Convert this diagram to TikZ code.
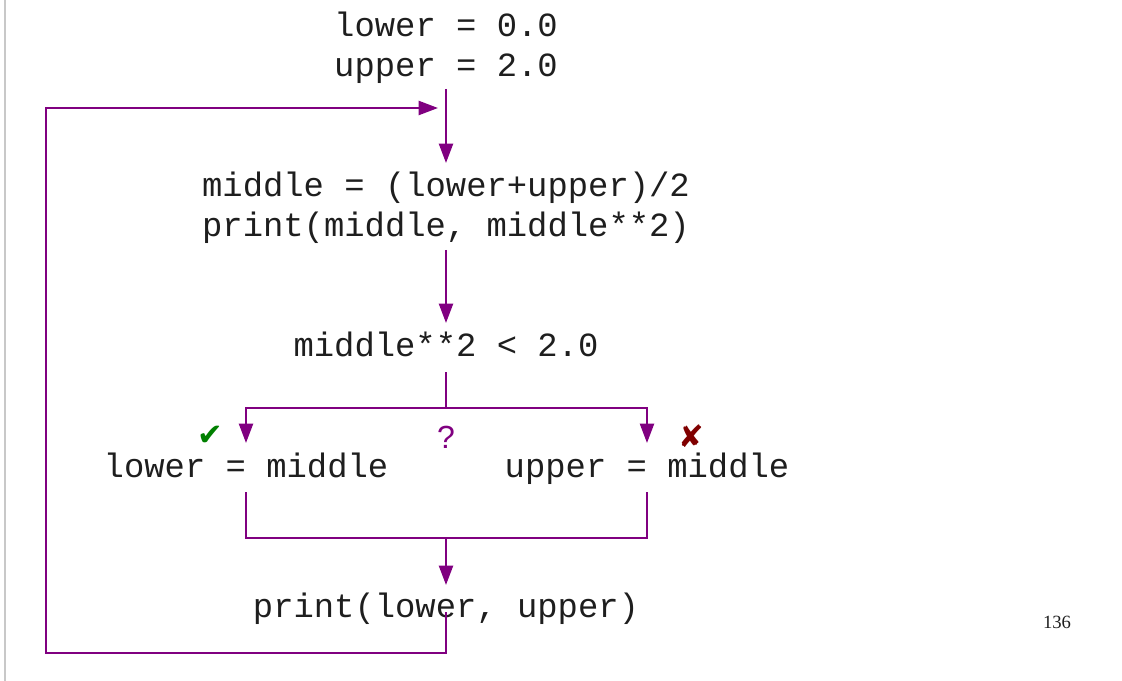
\documentclass[tikz,border=0pt]{standalone}
\usepackage{fontspec}
\setmainfont{Liberation Serif}
\newfontfamily\codefont{Liberation Mono}
\newfontfamily\symfont{DejaVu Sans}
\newfontfamily\qfont{Liberation Sans}
\usetikzlibrary{arrows.meta,calc}
\definecolor{flow}{HTML}{800080}
\definecolor{okgreen}{HTML}{008000}
\definecolor{badred}{HTML}{800000}
\definecolor{txt}{HTML}{1E1E1E}
\definecolor{edge}{HTML}{C8C8C8}
\tikzset{
  code/.style={font=\codefont\fontsize{25.4}{30}\selectfont, text=txt, inner sep=0pt, anchor=base},
  line/.style={draw=flow, line width=1.7pt},
  arr/.style={line, -{Triangle[length=14.5pt,width=10.5pt]}},
}
\begin{document}
\begin{tikzpicture}[x=0.75pt,y=-0.75pt]
\useasboundingbox (0,0) rectangle (1122,681);
\draw[edge, line width=1.2pt] (5,0) -- (5,681);

\node[code] (init1) at (446,37) {lower = 0.0};
\node[code] (init2) at (446,77) {upper = 2.0};
\node[code] (mid1) at (446,197) {middle = (lower+upper)/2};
\node[code] (mid2) at (446,237) {print(middle, middle**2)};
\node[code] (cond) at (446,356) {middle**2 < 2.0};
\node[code] (yes) at (246,477) {lower = middle};
\node[code] (no) at (647,477) {upper = middle};
\node[code] (out) at (446,617) {print(lower, upper)};

\node[text=flow, font=\qfont\fontsize{24}{28}\selectfont, inner sep=0pt] (q) at (446,437) {?};
\node[text=okgreen, font=\symfont\fontsize{23}{26}\selectfont, inner sep=0pt] (ok) at (210,436) {✔};
\node[text=badred, font=\symfont\fontsize{23}{26}\selectfont, inner sep=0pt] (bad) at (691,436) {✘};
\node[font=\fontsize{14}{16}\selectfont, text=txt, inner sep=0pt, anchor=base] (page) at (1057,628) {136};

\draw[arr] ($(init2.base)+(0,12)$) -- ($(mid1.base)+(0,-34)$);
\draw[arr] ($(mid2.base)+(0,13)$) -- ($(cond.base)+(0,-33)$);
\draw[line] ($(cond.base)+(0,16)$) -- ++(0,36) coordinate (split);
\draw[arr] (split) -| ($(yes.base)+(0,-34)$);
\draw[arr] (split) -| ($(no.base)+(0,-34)$);
\draw[line] ($(yes.base)+(0,15)$) -- ++(0,46) -| ($(no.base)+(0,15)$);
\coordinate (join) at (446,538);
\draw[arr] (join) -- ($(out.base)+(0,-32)$);
\draw[arr] ($(out.base)+(0,-5)$) -- ++(0,41) -| (46,108) -- ($(init2.base)+(-8,31)$);
\end{tikzpicture}
\end{document}
